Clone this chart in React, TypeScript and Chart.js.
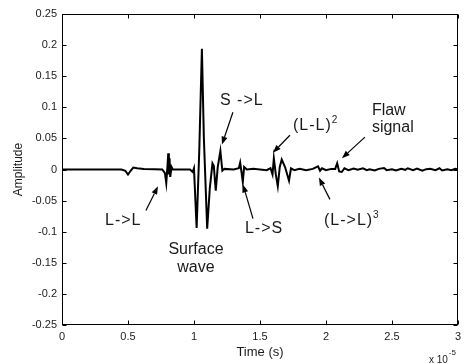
import React, { useEffect, useRef } from "react";
import { Chart, registerables } from "chart.js";

Chart.register(...registerables);

// Time axis values (x 10^-5 s)
const timeValues = [
  0, 0.45, 0.48, 0.5, 0.52, 0.54, 0.57, 0.62, 0.7, 0.76,
  0.78, 0.79, 0.8, 0.805, 0.81, 0.815, 0.82, 0.83, 0.84, 0.9,
  0.97, 0.99, 1.0, 1.02, 1.04, 1.06, 1.075, 1.1, 1.12, 1.14,
  1.15, 1.165, 1.18, 1.2, 1.215, 1.23, 1.3, 1.34, 1.35, 1.36,
  1.37, 1.38, 1.4, 1.45, 1.55, 1.58, 1.595, 1.605, 1.62, 1.635,
  1.65, 1.665, 1.69, 1.72, 1.735, 1.76, 1.8, 1.85, 1.9, 1.94,
  1.955, 1.97, 2.0, 2.04, 2.07, 2.085, 2.1, 2.12, 2.14,
  2.17, 2.21, 2.24, 2.28, 2.31, 2.33, 2.37, 2.4, 2.44, 2.46,
  2.5, 2.53, 2.57, 2.6, 2.62, 2.66, 2.69, 2.73, 2.76, 2.79,
  2.83, 2.86, 2.88, 2.92, 2.95, 2.98, 3.0,
];

// Amplitude values
const amplitudeValues = [
  0, 0, -0.002, -0.008, -0.002, 0.003, 0.002, 0.001, 0.0005, 0,
  -0.006, -0.022, 0.008, 0.026, -0.008, 0.018, -0.012, 0.004, 0, 0,
  0, -0.004, 0.002, -0.094, 0.03, 0.194, 0.05, -0.095, -0.03, 0.01,
  0.006, -0.034, 0.004, 0.03, -0.002, 0.001, 0, 0.002, 0.011, -0.004,
  -0.02, 0.004, 0, 0.001, -0.001, 0.002, -0.008, 0.018, -0.008, -0.027,
  0.004, 0.016, 0.004, -0.018, 0.002, -0.001, 0.001, -0.001, 0.001, 0.005,
  -0.002, 0.002, -0.001, 0.001, 0.001, 0.01, -0.003, -0.004, 0.002,
  -0.001, 0.0015, -0.0005, 0.002, -0.001, 0.0005, -0.0015, 0.001, 0.0025, -0.001,
  0.0005, -0.0015, 0.001, -0.0005, 0.002, -0.001, 0.0015, -0.002, 0.0005, 0.001,
  -0.001, 0.002, -0.0015, 0.0005, -0.001, 0.001, 0,
];

const xTickValues = [0, 0.5, 1, 1.5, 2, 2.5, 3];
const yTickValues = [-0.25, -0.2, -0.15, -0.1, -0.05, 0, 0.05, 0.1, 0.15, 0.2, 0.25];

const xAxisTitle = "Time (s)";
const yAxisTitle = "Amplitude";
const xMultiplierBase = "x 10";
const xMultiplierExp = "-5";

// Annotation labels: text lines, optional superscript, anchor in data coords
const annotationLabels = [
  { lines: ["L->L"], sup: "", x: 0.326, y: -0.082, align: "left" },
  { lines: ["Surface", "wave"], sup: "", x: 1.015, y: -0.129, align: "center" },
  { lines: ["S ->L"], sup: "", x: 1.197, y: 0.11, align: "left" },
  { lines: ["L->S"], sup: "", x: 1.386, y: -0.095, align: "left" },
  { lines: ["(L-L)"], sup: "2", x: 1.75, y: 0.071, align: "left" },
  { lines: ["Flaw", "signal"], sup: "", x: 2.348, y: 0.095, align: "left" },
  { lines: ["(L->L)"], sup: "3", x: 1.985, y: -0.082, align: "left" },
];

// Arrows: tail and head in data coords
const arrowTailX = [0.636, 1.295, 1.447, 1.727, 2.295, 2.03];
const arrowTailY = [-0.066, 0.092, -0.079, 0.055, 0.052, -0.048];
const arrowHeadX = [0.727, 1.212, 1.371, 1.598, 2.121, 1.947];
const arrowHeadY = [-0.027, 0.04, -0.024, 0.027, 0.018, -0.013];

const FONT = "'Liberation Sans', Arial, Helvetica, sans-serif";
const TEXT = "#1a1a1a";

const overlayPlugin = {
  id: "overlay",
  afterDraw(chart: any) {
    const { ctx, chartArea: a, scales } = chart;
    const xs = scales.x;
    const ys = scales.y;
    ctx.save();
    ctx.strokeStyle = "#000";
    ctx.lineWidth = 1;
    const L = Math.round(a.left) + 0.5;
    const R = Math.round(a.right) - 0.5;
    const T = Math.round(a.top) + 0.5;
    const B = Math.round(a.bottom) - 0.5;
    ctx.strokeRect(L, T, R - L, B - T);
    const tl = 4;
    ctx.beginPath();
    xTickValues.forEach((v) => {
      const px = Math.round(xs.getPixelForValue(v)) + 0.5;
      ctx.moveTo(px, B);
      ctx.lineTo(px, B - tl);
      ctx.moveTo(px, T);
      ctx.lineTo(px, T + tl);
    });
    yTickValues.forEach((v) => {
      const py = Math.round(ys.getPixelForValue(v)) + 0.5;
      ctx.moveTo(L, py);
      ctx.lineTo(L + tl, py);
      ctx.moveTo(R, py);
      ctx.lineTo(R - tl, py);
    });
    ctx.stroke();

    ctx.fillStyle = TEXT;
    ctx.textBaseline = "alphabetic";
    ctx.textAlign = "left";
    ctx.font = `10px ${FONT}`;
    const mx = a.right - 29;
    ctx.fillText(xMultiplierBase, mx, 363);
    const bw = ctx.measureText(xMultiplierBase).width;
    ctx.font = `8px ${FONT}`;
    ctx.fillText(xMultiplierExp, mx + bw + 1, 355);

    ctx.textBaseline = "middle";
    annotationLabels.forEach((lab) => {
      const px = xs.getPixelForValue(lab.x);
      const py = ys.getPixelForValue(lab.y);
      ctx.font = `16px ${FONT}`;
      const spaced = lab.lines[0].includes(">") || lab.lines[0].includes("-");
      (ctx as any).letterSpacing = spaced ? "1px" : "0px";
      ctx.textAlign = lab.align as CanvasTextAlign;
      lab.lines.forEach((line, i) => {
        ctx.fillText(line, px, py + i * 17.5);
      });
      if (lab.sup) {
        const w = ctx.measureText(lab.lines[0]).width - (spaced ? 1 : 0);
        (ctx as any).letterSpacing = "0px";
        ctx.font = `10px ${FONT}`;
        ctx.textAlign = "left";
        ctx.fillText(lab.sup, px + w + 1, py - 5);
      }
      (ctx as any).letterSpacing = "0px";
    });

    ctx.strokeStyle = "#000";
    ctx.fillStyle = "#000";
    ctx.lineWidth = 1.2;
    arrowTailX.forEach((_, i) => {
      const x1 = xs.getPixelForValue(arrowTailX[i]);
      const y1 = ys.getPixelForValue(arrowTailY[i]);
      const x2 = xs.getPixelForValue(arrowHeadX[i]);
      const y2 = ys.getPixelForValue(arrowHeadY[i]);
      const ang = Math.atan2(y2 - y1, x2 - x1);
      const hl = 8;
      const hw = 3;
      const bx = x2 - hl * Math.cos(ang);
      const by = y2 - hl * Math.sin(ang);
      ctx.beginPath();
      ctx.moveTo(x1, y1);
      ctx.lineTo(bx, by);
      ctx.stroke();
      ctx.beginPath();
      ctx.moveTo(x2, y2);
      ctx.lineTo(bx + hw * Math.sin(ang), by - hw * Math.cos(ang));
      ctx.lineTo(bx - hw * Math.sin(ang), by + hw * Math.cos(ang));
      ctx.closePath();
      ctx.fill();
    });
    ctx.restore();
  },
};

export default function App() {
  const canvasRef = useRef<HTMLCanvasElement | null>(null);

  useEffect(() => {
    const canvas = canvasRef.current;
    if (!canvas) return;
    const points = timeValues.map((t, i) => ({ x: t, y: amplitudeValues[i] }));
    const chart = new Chart(canvas, {
      type: "line",
      data: {
        datasets: [
          {
            data: points,
            borderColor: "#000",
            borderWidth: 2,
            pointRadius: 0,
            tension: 0,
            fill: false,
          },
        ],
      },
      options: {
        responsive: false,
        animation: false,
        maintainAspectRatio: false,
        layout: { padding: { top: 14, right: 8, left: 0, bottom: 0 } },
        plugins: { legend: { display: false }, tooltip: { enabled: false } },
        scales: {
          x: {
            type: "linear",
            min: 0,
            max: 3,
            afterBuildTicks: (s: any) => {
              s.ticks = xTickValues.map((v) => ({ value: v }));
            },
            afterFit: (s: any) => {
              s.height = 39;
            },
            grid: { display: false, drawTicks: false },
            border: { display: false },
            ticks: {
              color: TEXT,
              font: { size: 11, family: FONT },
              padding: 5,
              maxRotation: 0,
              autoSkip: false,
              callback: (v: any) => String(v),
            },
            title: {
              display: true,
              text: xAxisTitle,
              color: TEXT,
              font: { size: 13, family: FONT },
              padding: { top: 0, bottom: 4 },
            },
          },
          y: {
            type: "linear",
            min: -0.25,
            max: 0.25,
            afterBuildTicks: (s: any) => {
              s.ticks = yTickValues.map((v) => ({ value: v }));
            },
            afterFit: (s: any) => {
              s.width = 62;
            },
            grid: { display: false, drawTicks: false },
            border: { display: false },
            ticks: {
              color: TEXT,
              font: { size: 11, family: FONT },
              padding: 5,
              autoSkip: false,
              callback: (v: any) => String(v),
            },
            title: {
              display: true,
              text: yAxisTitle,
              color: TEXT,
              font: { size: 12, family: FONT },
              padding: { top: 11, bottom: 0 },
            },
          },
        },
      },
      plugins: [overlayPlugin],
    });
    return () => chart.destroy();
  }, []);

  return (
    <div style={{ position: "absolute", left: 0, top: 0, width: 466, height: 364, background: "#fff" }}>
      <canvas ref={canvasRef} width={466} height={364} />
    </div>
  );
}
